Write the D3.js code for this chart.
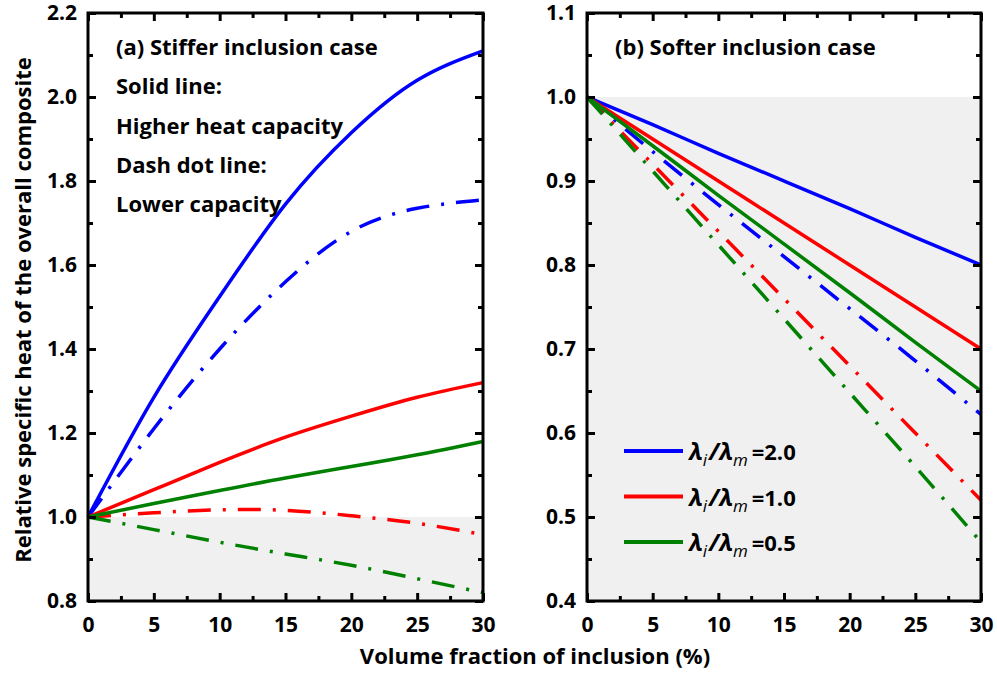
<!DOCTYPE html>
<html>
<head>
<meta charset="utf-8">
<script src="https://cdn.jsdelivr.net/npm/d3@7"></script>
<style>
body { margin: 0; background: #fff; }
text { font-family: "Open Sans", sans-serif; font-weight: 700; fill: #000; }
</style>
</head>
<body>
<script>
// volume fraction of inclusion (%)
var FRACTION = [0, 5, 10, 15, 20, 25, 30];

// (a) stiffer inclusion, solid = higher heat capacity, dashdot = lower
var A_BLUE_SOLID  = [1.0, 1.285, 1.525, 1.745, 1.915, 2.04, 2.11];
var A_BLUE_DASH   = [1.0, 1.21, 1.40, 1.56, 1.68, 1.735, 1.755];
var A_RED_SOLID   = [1.0, 1.065, 1.13, 1.19, 1.24, 1.285, 1.32];
var A_RED_DASH    = [1.0, 1.01, 1.017, 1.016, 1.003, 0.985, 0.958];
var A_GREEN_SOLID = [1.0, 1.032, 1.063, 1.093, 1.12, 1.148, 1.18];
var A_GREEN_DASH  = [1.0, 0.97, 0.94, 0.912, 0.885, 0.853, 0.82];

// (b) softer inclusion
var B_BLUE_SOLID  = [1.0, 0.967, 0.933, 0.90, 0.867, 0.833, 0.80];
var B_BLUE_DASH   = [1.0, 0.935, 0.872, 0.81, 0.748, 0.686, 0.622];
var B_RED_SOLID   = [1.0, 0.95, 0.90, 0.85, 0.80, 0.75, 0.70];
var B_RED_DASH    = [1.0, 0.92, 0.84, 0.76, 0.68, 0.60, 0.52];
var B_GREEN_SOLID = [1.0, 0.942, 0.883, 0.825, 0.767, 0.708, 0.65];
var B_GREEN_DASH  = [1.0, 0.912, 0.824, 0.736, 0.648, 0.56, 0.47];

var LEGEND_RATIO = ["2.0", "1.0", "0.5"];
var COLOURS = ["#0000ff", "#ff0000", "#008000"];

var X_TICKS = [0, 5, 10, 15, 20, 25, 30];
var A_Y_TICKS = [0.8, 1.0, 1.2, 1.4, 1.6, 1.8, 2.0, 2.2];
var B_Y_TICKS = [0.4, 0.5, 0.6, 0.7, 0.8, 0.9, 1.0, 1.1];

var A_NOTES = ["(a) Stiffer inclusion case", "Solid line:", "Higher heat capacity",
               "Dash dot line:", "Lower capacity"];
var B_NOTES = ["(b) Softer inclusion case"];

var W = 997, H = 675;
var TOP = 13, BOTTOM = 601;
var DASHDOT = "23,12,3,12";

var svg = d3.select("body").append("svg")
    .attr("width", W)
    .attr("height", H);

function panel(left, right, ydom, yticks, yminor, curves, notes) {
    var x = d3.scaleLinear().domain([0, 30]).range([left, right]);
    var y = d3.scaleLinear().domain(ydom).range([BOTTOM, TOP]);
    var g = svg.append("g");

    // grey band below 1.0
    g.append("rect")
        .attr("x", left).attr("y", y(1.0))
        .attr("width", right - left).attr("height", BOTTOM - y(1.0))
        .attr("fill", "#f0f0f0");

    var line = d3.line()
        .x(function (d) { return x(d[0]); })
        .y(function (d) { return y(d[1]); })
        .curve(d3.curveNatural);

    curves.forEach(function (c) {
        var pts = FRACTION.map(function (f, i) { return [f, c.v[i]]; });
        g.append("path")
            .attr("d", line(pts))
            .attr("fill", "none")
            .attr("stroke", c.col)
            .attr("stroke-width", 3.5)
            .attr("stroke-dasharray", c.dash ? DASHDOT : null);
    });

    var xminor = d3.range(2.5, 30, 5);

    // major + minor ticks on all four sides, pointing inward
    function ax(a, scale, vals, size, fmt, pad) {
        var gen = a(scale).tickValues(vals).tickSize(size).tickPadding(pad);
        gen.tickFormat(fmt ? fmt : "");
        return gen;
    }
    var fx = d3.format("d"), fy = d3.format(".1f");

    var gb = g.append("g").attr("transform", "translate(0," + BOTTOM + ")");
    gb.call(ax(d3.axisBottom, x, X_TICKS, -8, fx, 16));
    gb.append("g").call(ax(d3.axisBottom, x, xminor, -5, null, 0));
    var gt = g.append("g").attr("transform", "translate(0," + TOP + ")");
    gt.call(ax(d3.axisTop, x, X_TICKS, -8, null, 0));
    gt.append("g").call(ax(d3.axisTop, x, xminor, -5, null, 0));
    var gl = g.append("g").attr("transform", "translate(" + left + ",0)");
    gl.call(ax(d3.axisLeft, y, yticks, -8, fy, 11));
    gl.append("g").call(ax(d3.axisLeft, y, yminor, -5, null, 0));
    var gr = g.append("g").attr("transform", "translate(" + right + ",0)");
    gr.call(ax(d3.axisRight, y, yticks, -8, null, 0));
    gr.append("g").call(ax(d3.axisRight, y, yminor, -5, null, 0));

    g.selectAll(".domain").remove();
    g.selectAll(".tick line").attr("stroke", "#000").attr("stroke-width", 3);
    g.selectAll(".tick text")
        .attr("font-family", "Open Sans, sans-serif")
        .attr("font-weight", 700)
        .attr("font-size", 21)
        .attr("fill", "#000");

    g.append("rect")
        .attr("x", left).attr("y", TOP)
        .attr("width", right - left).attr("height", BOTTOM - TOP)
        .attr("fill", "none").attr("stroke", "#000").attr("stroke-width", 3);

    notes.forEach(function (t, i) {
        g.append("text")
            .attr("x", left + 28)
            .attr("y", 55 + i * 39.3)
            .attr("font-size", 22)
            .text(t);
    });

    return { x: x, y: y, g: g };
}

var pa = panel(88, 483, [0.8, 2.2], A_Y_TICKS,
    d3.range(0.9, 2.2, 0.2),
    [
        { v: A_BLUE_SOLID, col: COLOURS[0], dash: false },
        { v: A_BLUE_DASH, col: COLOURS[0], dash: true },
        { v: A_RED_SOLID, col: COLOURS[1], dash: false },
        { v: A_RED_DASH, col: COLOURS[1], dash: true },
        { v: A_GREEN_SOLID, col: COLOURS[2], dash: false },
        { v: A_GREEN_DASH, col: COLOURS[2], dash: true }
    ], A_NOTES);

var pb = panel(587, 981, [0.4, 1.1], B_Y_TICKS,
    d3.range(0.45, 1.1, 0.1),
    [
        { v: B_BLUE_SOLID, col: COLOURS[0], dash: false },
        { v: B_BLUE_DASH, col: COLOURS[0], dash: true },
        { v: B_RED_SOLID, col: COLOURS[1], dash: false },
        { v: B_RED_DASH, col: COLOURS[1], dash: true },
        { v: B_GREEN_SOLID, col: COLOURS[2], dash: false },
        { v: B_GREEN_DASH, col: COLOURS[2], dash: true }
    ], B_NOTES);

// legend in panel (b)
LEGEND_RATIO.forEach(function (r, i) {
    var ly = 451 + i * 45.5;
    pb.g.append("line")
        .attr("x1", 624).attr("x2", 683)
        .attr("y1", ly).attr("y2", ly)
        .attr("stroke", COLOURS[i]).attr("stroke-width", 4);
    var t = pb.g.append("text")
        .attr("x", 689).attr("y", ly + 9)
        .attr("font-size", 22);
    t.append("tspan").attr("font-style", "italic").attr("font-size", 24).text("\u03bb");
    t.append("tspan").attr("font-style", "italic").attr("font-weight", 400)
        .attr("font-size", 17).attr("dy", 6).text("i");
    t.append("tspan").attr("font-style", "italic").attr("font-size", 24)
        .attr("dy", -6).attr("dx", 2).text("/");
    t.append("tspan").attr("font-style", "italic").attr("font-size", 24).text("\u03bb");
    t.append("tspan").attr("font-style", "italic").attr("font-weight", 400)
        .attr("font-size", 17).attr("dy", 6).text("m");
    t.append("tspan").attr("dy", -6).attr("dx", 4).text("=" + r);
});

// axis titles
svg.append("text")
    .attr("transform", "translate(31," + ((TOP + BOTTOM) / 2 + 3) + ") rotate(-90)")
    .attr("text-anchor", "middle")
    .attr("font-size", 22)
    .text("Relative specific heat of the overall composite");

svg.append("text")
    .attr("x", 535).attr("y", 664)
    .attr("text-anchor", "middle")
    .attr("font-size", 22)
    .text("Volume fraction of inclusion (%)");
</script>
</body>
</html>
